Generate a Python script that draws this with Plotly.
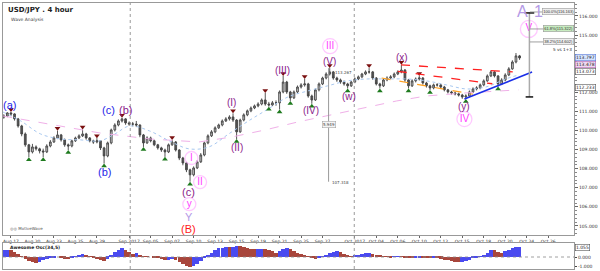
import plotly.graph_objects as go

# ---------------- data ----------------
first_open = 110.70
closes = [110.76,110.92,110.87,110.61,110.24,109.82,109.25,108.88,109.14,109.04,
          108.93,108.88,109.19,109.40,109.61,109.77,109.51,109.25,109.19,109.46,
          109.61,109.72,109.82,109.61,109.46,109.40,109.46,109.09,108.67,109.35,
          110.03,110.29,110.50,110.61,110.40,110.34,110.34,110.29,109.77,109.35,
          109.61,109.46,109.25,109.09,108.98,108.88,109.25,109.40,108.98,108.56,
          108.30,107.94,107.68,108.04,108.36,108.72,109.35,109.72,109.93,110.14,
          110.29,110.50,110.61,110.71,110.55,109.93,110.55,110.82,111.03,111.18,
          111.29,111.39,111.60,111.39,111.34,111.45,111.45,112.02,112.54,112.02,
          111.71,112.02,112.28,112.39,112.44,111.81,111.60,112.13,112.44,112.75,
          112.96,113.07,112.75,112.65,112.54,112.44,112.34,112.54,112.70,112.81,
          112.96,113.07,113.07,112.75,112.44,112.34,112.65,112.75,112.81,112.96,
          113.07,113.17,112.65,112.34,112.60,112.70,112.75,112.49,112.34,112.23,
          112.39,112.39,112.28,112.13,112.02,111.97,111.92,111.86,111.76,111.81,
          112.02,112.18,112.23,112.39,112.60,112.86,113.07,112.86,112.44,112.65,
          112.91,113.23,113.59,113.91,113.80]
highs = [110.85,110.96,110.97,110.90,110.66,110.30,109.90,109.30,109.30,109.22,
         109.10,109.05,109.28,109.50,109.70,109.99,109.82,109.58,109.32,109.52,
         109.68,109.80,110.05,109.88,109.66,109.52,109.60,109.50,109.15,109.42,
         110.10,110.38,110.58,110.67,110.65,110.48,110.45,110.50,110.32,109.82,
         109.70,109.68,109.52,109.30,109.15,109.05,109.32,109.50,109.45,109.02,
         108.62,108.36,108.00,108.12,108.45,108.82,109.42,109.80,110.02,110.22,
         110.36,110.58,110.70,110.80,110.90,110.60,110.62,110.90,111.10,111.26,
         111.36,111.48,111.68,111.97,111.50,111.55,111.58,112.10,112.86,112.60,
         112.08,112.10,112.36,112.48,112.70,112.50,111.88,112.20,112.52,112.82,
         113.05,113.27,113.12,112.82,112.72,112.62,112.50,112.60,112.78,112.88,
         113.02,113.15,113.27,113.12,112.80,112.50,112.72,112.84,112.90,113.04,
         113.15,113.44,113.22,112.70,112.68,112.78,112.86,112.80,112.55,112.40,
         112.46,112.48,112.45,112.34,112.18,112.08,112.04,111.98,111.92,111.90,
         112.10,112.26,112.32,112.46,112.68,112.94,113.15,113.12,112.90,112.74,
         113.00,113.32,113.68,114.06,113.96]
lows = [110.62,110.70,110.75,110.52,110.15,109.70,109.15,108.60,108.80,108.95,
        108.80,108.60,108.82,109.12,109.35,109.55,109.42,109.15,108.98,109.12,
        109.40,109.55,109.66,109.52,109.38,109.30,109.33,108.98,108.27,108.60,
        109.28,109.95,110.22,110.42,110.30,110.25,110.22,110.18,109.65,109.14,
        109.30,109.38,109.18,109.00,108.88,108.62,108.82,109.20,108.90,108.45,
        108.18,107.82,107.32,107.60,107.98,108.30,108.65,109.28,109.66,109.86,
        110.08,110.22,110.45,110.52,110.45,109.55,109.88,110.48,110.75,110.96,
        111.12,111.22,111.32,111.30,111.25,111.28,111.30,111.10,111.95,111.92,
        111.55,111.65,111.95,112.20,112.30,111.72,111.40,111.55,112.05,112.38,
        112.68,112.88,112.66,112.55,112.45,112.35,112.20,112.28,112.48,112.64,
        112.74,112.90,112.98,112.66,112.36,112.20,112.28,112.58,112.70,112.74,
        112.90,113.00,112.55,112.20,112.28,112.52,112.62,112.40,112.25,112.12,
        112.16,112.30,112.20,112.05,111.94,111.88,111.84,111.78,111.66,111.65,
        111.75,111.96,112.10,112.16,112.32,112.55,112.80,112.78,112.30,112.38,
        112.58,112.85,113.18,113.52,113.70]
opens = [first_open] + closes[:-1]
# 8-hour bars on a trading-day axis (day 0 = Aug 17)
bar_day = [-2/3 + i/3 for i in range(len(closes))]

ao = [0.70,0.75,0.70,0.55,0.30,0.05,-0.20,-0.40,-0.55,-0.60,
      -0.50,-0.35,-0.20,-0.10,-0.05,0.00,-0.10,-0.20,-0.22,-0.10,
      0.10,0.25,0.32,0.20,0.05,-0.10,-0.25,-0.35,-0.45,-0.20,
      0.20,0.50,0.75,0.90,0.75,0.50,0.35,0.40,0.25,0.10,
      0.05,0.00,-0.05,-0.15,-0.25,-0.32,-0.28,-0.25,-0.35,-0.55,
      -0.75,-0.90,-1.00,-0.95,-0.70,-0.45,-0.15,0.15,0.45,0.70,
      0.90,0.98,1.02,1.00,1.10,1.20,1.12,1.00,0.95,0.88,
      0.82,0.85,0.88,0.80,0.70,0.58,0.45,0.60,0.85,0.92,
      0.80,0.60,0.45,0.30,0.15,0.05,-0.05,-0.18,-0.12,0.05,
      0.25,0.40,0.52,0.60,0.50,0.35,0.20,0.10,0.12,0.20,
      0.30,0.38,0.42,0.35,0.25,0.15,0.08,0.02,-0.03,0.02,
      0.05,0.03,-0.05,-0.10,-0.12,-0.06,-0.04,-0.08,-0.12,-0.15,
      -0.13,-0.15,-0.20,-0.28,-0.35,-0.42,-0.48,-0.50,-0.48,-0.42,
      -0.30,-0.15,-0.02,0.10,0.20,0.40,0.75,0.70,0.55,0.45,
      0.60,0.75,0.90,1.00,1.05]

# slow moving average (pink dashed) and fast average (light blue dotted)
ma_slow_day = [-0.74,0.28,3.68,8.29,12.89,17.5,20.53,23.66,26.7,29.74,32.78,35.9,38.67,42.36,47.24]
ma_slow_val = [110.76,110.66,110.35,109.87,109.56,109.40,109.66,110.03,110.45,110.82,111.18,111.55,111.81,111.97,112.13]
ma_fast_day = [-0.74,0.92,2.76,4.6,6.45,8.29,9.67,11.05,12.89,14.73,16.57,18.42,20.26,22.1,23.94,
               25.78,27.62,29.47,31.31,33.15,35.0,36.83,38.67,40.52,42.36,44.2,46.04,47.24]
ma_fast_val = [110.97,110.50,109.82,109.56,109.51,109.46,109.82,110.24,109.98,109.46,109.04,109.14,
               109.82,110.50,111.13,111.76,112.07,112.34,112.60,112.70,112.70,112.70,112.60,112.39,
               112.18,112.28,112.70,112.91]

tick_days = [0,2,4,6,8,11,13,15,17,19,21,23,25,27,29,32,34,36,38,40,42,44,46,48,50]
tick_text = ["Aug 17","Aug 20","Aug 23","Aug 25","Aug 29","Sep 2017","Sep 05","Sep 07",
             "Sep 10","Sep 13","Sep 15","Sep 19","Sep 21","Sep 25","Sep 27","Oct 2017",
             "Oct 04","Oct 06","Oct 10","Oct 12","Oct 15","Oct 18","Oct 20","Oct 24","Oct 26"]
price_ticks = [105,106,107,108,109,110,111,112,115,116]

swing_high_bars = [2,15,22,26,33,47,64,73,78,84,91,102,111,116]
swing_low_bars = [7,11,18,28,39,45,52,65,74,77,80,86,96,105,113,119,129,138]

BLUE = "#1f1fe8"; PURP = "#8a1a8a"; PINK = "#ff3dff"; LAV = "#b49ae6"; RED = "#ff1a1a"
# (text, day, price, colour, size)
wave_labels = [
    ("(a)", -0.15, 111.35, BLUE, 11),
    ("(b)", 8.75, 107.85, BLUE, 11),
    ("(c)", 9.1, 111.05, BLUE, 11),
    ("(b)", 10.65, 111.08, PURP, 11),
    ("(c)", 16.5, 106.80, PURP, 11),
    ("Y", 16.55, 105.48, LAV, 11),
    ("(B)", 16.55, 104.82, RED, 11),
    ("(I)", 20.5, 111.45, PURP, 10),
    ("(II)", 21.0, 109.12, PURP, 10),
    ("(III)", 25.3, 113.12, PURP, 10),
    ("(IV)", 27.9, 111.03, PURP, 10),
    ("(V)", 29.6, 113.62, PURP, 10),
    ("(w)", 31.5, 111.76, PURP, 10),
    ("(x)", 36.4, 113.80, PURP, 10),
    ("(y)", 42.2, 111.24, PURP, 10),
]
circled = [("I", 16.8, 108.56, 13), ("II", 17.6, 107.30, 13), ("y", 16.6, 106.14, 13),
           ("III", 29.7, 114.42, 15), ("IV", 42.2, 110.60, 15), ("V", 48.2, 115.32, 17)]

fig = go.Figure()

fig.add_trace(go.Scatter(x=ma_slow_day, y=ma_slow_val, mode="lines", line=dict(color="#f0b0e8", width=1, dash="dash"),
                         showlegend=False, hoverinfo="skip"))
fig.add_trace(go.Scatter(x=ma_fast_day, y=ma_fast_val, mode="lines", line=dict(color="#a8c8f0", width=1, dash="dot", shape="spline"),
                         showlegend=False, hoverinfo="skip"))

fig.add_trace(go.Candlestick(
    x=bar_day, open=opens, high=highs, low=lows, close=closes,
    increasing=dict(line=dict(color="#444444", width=0.9), fillcolor="#c8c8c8"),
    decreasing=dict(line=dict(color="#444444", width=0.9), fillcolor="#555555"),
    whiskerwidth=0, showlegend=False, hoverinfo="skip", xaxis="x", yaxis="y"))

fig.add_trace(go.Scatter(
    x=[bar_day[i] for i in swing_high_bars], y=[highs[i] + 0.13 for i in swing_high_bars],
    mode="markers", marker=dict(symbol="triangle-down", size=5, color="#7a1010"),
    showlegend=False, hoverinfo="skip"))
fig.add_trace(go.Scatter(
    x=[bar_day[i] for i in swing_low_bars], y=[lows[i] - 0.13 for i in swing_low_bars],
    mode="markers", marker=dict(symbol="triangle-up", size=5, color="#1e7a1e"),
    showlegend=False, hoverinfo="skip"))

# circled labels
fig.add_trace(go.Scatter(
    x=[c[1] for c in circled], y=[c[2] for c in circled], mode="markers+text",
    text=[c[0] for c in circled], textposition="middle center",
    textfont=dict(color=PINK, size=10, family="Liberation Sans"),
    marker=dict(symbol="circle", size=[c[3] for c in circled], color="rgba(255,255,255,0)",
                line=dict(color="#ffb3ff", width=1.3)),
    showlegend=False, hoverinfo="skip"))

ao_colors = ["#4a4af0" if i == 0 or ao[i] >= ao[i-1] else "#a8463c" for i in range(len(ao))]
fig.add_trace(go.Bar(x=bar_day, y=ao, marker=dict(color=ao_colors, line=dict(width=0)),
                     width=0.33, xaxis="x2", yaxis="y2", showlegend=False, hoverinfo="skip"))

ann = []
for t, d, p, col, sz in wave_labels:
    ann.append(dict(x=d, y=p, text=t, showarrow=False, font=dict(color=col, size=sz, family="Liberation Sans"),
                    xref="x", yref="y"))
ann.append(dict(x=47.6, y=116.25, text="A", showarrow=False, font=dict(color=LAV, size=16, family="Liberation Sans"), xref="x", yref="y"))
ann.append(dict(x=49.05, y=116.25, text="1", showarrow=False, font=dict(color=LAV, size=16, family="Liberation Sans"), xref="x", yref="y"))

# fib boxes
fib = [(116.21, "100.0%(116.163)", "#eeeeee"), (115.32, "61.8%(115.322)", "#c8ecc0"), (114.64, "38.2%(114.602)", "#eeeeee")]
for p, t, bg in fib:
    ann.append(dict(x=51.0, y=p, text=t, showarrow=False, font=dict(size=4, color="#333", family="Liberation Sans"),
                    bgcolor=bg, bordercolor="#999", borderwidth=0.6, borderpad=0.6, xref="x", yref="y"))
ann.append(dict(x=51.3, y=114.26, text="5 vs 1+3", showarrow=False, font=dict(size=4.2, color="#222", family="DejaVu Sans"), xref="x", yref="y"))

# measurement labels
ann.append(dict(x=30.0, y=113.05, text="113.267", xanchor="left", showarrow=False, font=dict(size=4, color="#444", family="DejaVu Sans"), xref="x", yref="y"))
ann.append(dict(x=29.7, y=107.30, text="107.318", xanchor="left", showarrow=False, font=dict(size=4, color="#444", family="DejaVu Sans"), xref="x", yref="y"))
ann.append(dict(x=29.56, y=110.3, text="5.949", showarrow=False, font=dict(size=4, color="#444", family="DejaVu Sans"),
                bgcolor="#f4f4f4", bordercolor="#999", borderwidth=0.5, borderpad=0.5, xref="x", yref="y"))

# right margin price tags
tags = [(113.80, "113.797", "#d6e4ff", "#5a7ad8"), (113.48, "113.478", "#f0d8f0", "#b060b0"),
        (113.07, "113.073", "#ffffff", "#555"), (112.23, "112.233", "#ffffff", "#555")]
for p, t, bg, bc in tags:
    ann.append(dict(x=1.002, y=p, text=t, xref="paper", yref="y", xanchor="left", showarrow=False,
                    font=dict(size=4.5, color="#222", family="DejaVu Sans"), bgcolor=bg, bordercolor=bc,
                    borderwidth=0.6, borderpad=0.3))
ann.append(dict(x=1.002, y=1.05, text="1.055", xref="paper", yref="y2", xanchor="left", showarrow=False,
                font=dict(size=4.5, color="#222", family="DejaVu Sans"), bgcolor="#fff", bordercolor="#555",
                borderwidth=0.6, borderpad=0.3))

ann.append(dict(x=0.006, y=0.997, xref="paper", yref="paper", xanchor="left", yanchor="top", showarrow=False,
                text="<b>USD/JPY . 4 hour</b>", font=dict(size=7, color="#222", family="DejaVu Sans")))
ann.append(dict(x=0.010, y=0.955, xref="paper", yref="paper", xanchor="left", yanchor="top", showarrow=False,
                text="Wave Analysis", font=dict(size=4.5, color="#444", family="DejaVu Sans")))
ann.append(dict(x=0.008, y=0.135, xref="paper", yref="paper", xanchor="left", yanchor="bottom", showarrow=False,
                text="◎◎ MotiveWave", font=dict(size=4, color="#555", family="DejaVu Sans")))
ann.append(dict(x=0.008, y=0.097, xref="paper", yref="paper", xanchor="left", yanchor="top", showarrow=False,
                text="<b>Awesome Osc(34,5)</b>", font=dict(size=4.5, color="#222", family="DejaVu Sans")))

shapes = []
for d in (11.1, 31.95):
    shapes.append(dict(type="line", xref="x", yref="paper", x0=d, x1=d, y0=0, y1=1,
                       line=dict(color="#999", width=1, dash="dot")))
# trend lines
shapes += [
    dict(type="line", xref="x", yref="y", x0=36.3, y0=113.44, x1=46.7, y1=113.07, line=dict(color="#ff2020", width=1.3, dash="dash")),
    dict(type="line", xref="x", yref="y", x0=36.0, y0=113.1, x1=44.8, y1=112.45, line=dict(color="#ff2020", width=1.3, dash="dash")),
    dict(type="line", xref="x", yref="y", x0=34.5, y0=112.75, x1=43.0, y1=111.9, line=dict(color="#ffa020", width=1.2, dash="dash")),
    dict(type="line", xref="x", yref="y", x0=42.2, y0=111.65, x1=48.5, y1=113.07, line=dict(color="#1a2ee8", width=1.6)),
    # measurement lines
    dict(type="line", xref="x", yref="y", x0=29.56, y0=113.267, x1=29.56, y1=107.318, line=dict(color="#999", width=1)),
    dict(type="line", xref="x", yref="y", x0=48.25, y0=116.16, x1=48.25, y1=111.76, line=dict(color="#aaa", width=1.5)),
    dict(type="line", xref="x", yref="y", x0=47.8, y0=116.16, x1=48.7, y1=116.16, line=dict(color="#111", width=1.5)),
    dict(type="line", xref="x", yref="y", x0=47.9, y0=111.76, x1=48.6, y1=111.76, line=dict(color="#111", width=1.5)),
]
for p, _, _ in fib:
    shapes.append(dict(type="line", xref="x", yref="y", x0=48.3, y0=p, x1=49.7, y1=p, line=dict(color="#888", width=0.8)))
# oscillator zero line
shapes.append(dict(type="line", xref="x2", yref="y2", x0=-0.74, x1=52.4, y0=0, y1=0, line=dict(color="#888", width=0.8, dash="dot")))

fig.update_layout(
    width=600, height=271, margin=dict(l=2, r=21, t=3, b=2),
    paper_bgcolor="white", plot_bgcolor="white", bargap=0,
    font=dict(family="DejaVu Sans", size=5, color="#333"),
    xaxis=dict(domain=[0, 1], range=[-0.74, 52.4], anchor="y", tickmode="array", tickvals=tick_days,
               ticktext=tick_text, tickfont=dict(size=4.5, color="#333"), ticks="outside", ticklen=2,
               tickcolor="#666", showgrid=False, zeroline=False, showline=True, linecolor="#999",
               mirror=True, rangeslider=dict(visible=False)),
    yaxis=dict(domain=[0.128, 1], range=[104.53, 116.68], side="right", tickmode="array",
               tickvals=price_ticks, ticktext=[f"{v:.3f}" for v in price_ticks],
               tickfont=dict(size=4.5, color="#333"), ticks="outside", ticklen=3, tickcolor="#666",
               minor=dict(dtick=0.2, ticks="outside", ticklen=1.5, tickcolor="#888"),
               showgrid=False, zeroline=False, showline=True, linecolor="#999", mirror=True),
    xaxis2=dict(domain=[0, 1], range=[-0.74, 52.4], anchor="y2", showticklabels=False, showgrid=False,
                zeroline=False, showline=True, linecolor="#999", mirror=True),
    yaxis2=dict(domain=[0, 0.0977], range=[-1.26, 1.47], side="right", tickmode="array",
                tickvals=[-1, 0], ticktext=["-1.000", "0.000"], tickfont=dict(size=4.5, color="#333"),
                ticks="outside", ticklen=2, showgrid=False, zeroline=False, showline=True,
                linecolor="#999", mirror=True),
    annotations=ann, shapes=shapes)

fig.write_html("out.html")
